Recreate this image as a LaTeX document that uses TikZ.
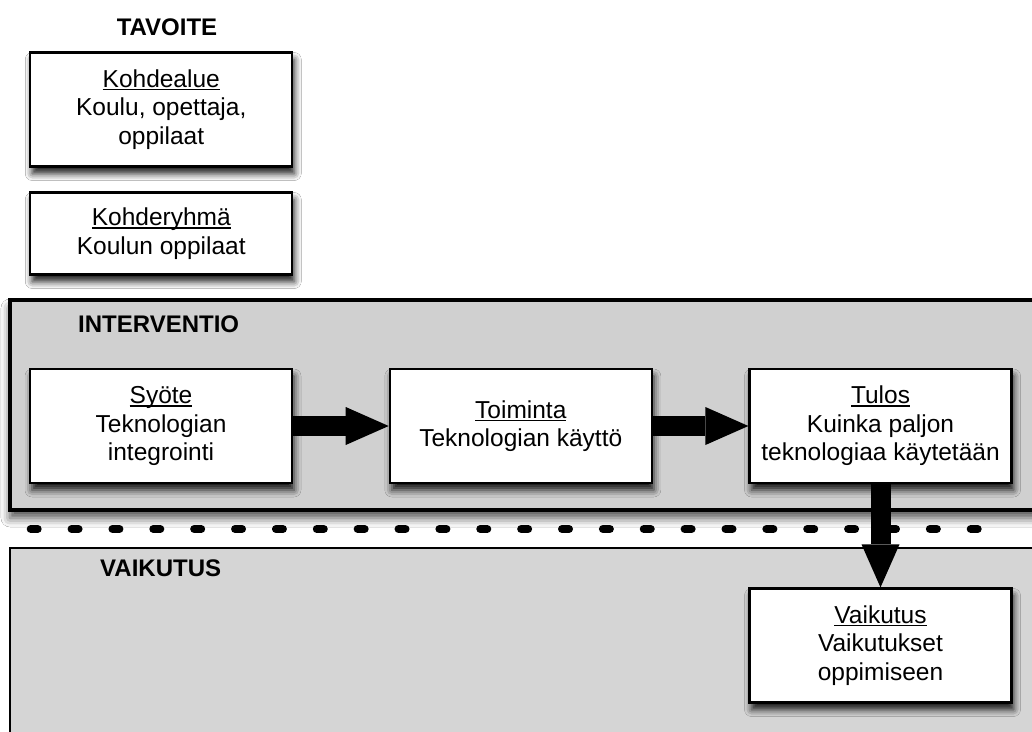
\documentclass[tikz,border=0pt]{standalone}
\usepackage{fontspec}
\setmainfont{Liberation Sans}
\usetikzlibrary{arrows.meta,shadows.blur}
\definecolor{panelgray}{RGB}{208,208,208}
\definecolor{zonegray}{RGB}{213,213,213}
\newsavebox\headbox
\newcommand\headline[1]{\sbox\headbox{#1}\rlap{\rule[-3pt]{\wd\headbox}{1.5pt}}\usebox\headbox}
\begin{document}
\begin{tikzpicture}[x=1pt,y=-1pt,
  softshadow/.style={blur shadow={shadow xshift=2pt, shadow yshift=-7pt,
      shadow blur radius=7pt, shadow opacity=90}},
  card/.style={draw=black, line width=2.2pt, fill=white, align=center,
    minimum width=262pt, minimum height=114pt, inner sep=0pt,
    font=\fontsize{24.5}{28.5}\selectfont, softshadow},
  heading/.style={font=\fontsize{24}{28}\selectfont\bfseries,
    anchor=base west, inner sep=0pt},
  flow/.style={draw=black, line width=20pt,
    -{Triangle[length=43pt,width=38pt,line width=0pt,fill=black,color=black]}},
  dots/.style={line width=8pt, line cap=round, dash pattern=on 7pt off 33.87pt},
]
\fill[white] (0,0) rectangle (1032,731);
\useasboundingbox (0,0) rectangle (1032,731);

% background zones
\path[draw=black, line width=4pt, fill=panelgray,
  blur shadow={shadow xshift=0pt, shadow yshift=-8pt,
    shadow blur radius=9pt, shadow opacity=70}]
  (10,300) rectangle (1060,510);
\path[draw=black, line width=2pt, fill=zonegray] (10,548) rectangle (1060,760);

% separator between intervention and impact
\coordinate (dashL) at (30.7,529);
\coordinate (dashR) at (977.7,529);
\draw[dots] (dashL) -- (dashR);

% headings
\node[heading, anchor=base] (tavoite) at (167,35) {TAVOITE};
\node[heading] (interventio) at (78,332) {INTERVENTIO};
\node[heading] (vaikutusH) at (100,576) {VAIKUTUS};

% goal boxes
\node[card] (kohde) at (161.25,109.5)
  {\headline{Kohdealue}\\Koulu, opettaja,\\oppilaat};
\node[card, minimum height=82pt] (ryhma) at (161.25,233.5)
  {\headline{Kohderyhmä}\\Koulun oppilaat};

% intervention chain
\node[card] (syote) at (161,426)
  {\headline{Syöte}\\Teknologian\\integrointi};
\node[card] (toiminta) at (520.8,426)
  {\headline{Toiminta}\\Teknologian käyttö};
\node[card] (tulos) at (880.5,426)
  {\headline{Tulos}\\Kuinka paljon\\teknologiaa käytetään};

% impact box
\node[card] (vaik) at (880.5,645.5)
  {\headline{Vaikutus}\\Vaikutukset\\oppimiseen};

% flow arrows
\draw[flow] (syote.east) -- (toiminta.west);
\draw[flow] (toiminta.east) -- (tulos.west);
\draw[flow] (tulos.south) -- (vaik.north);
\end{tikzpicture}
\end{document}
